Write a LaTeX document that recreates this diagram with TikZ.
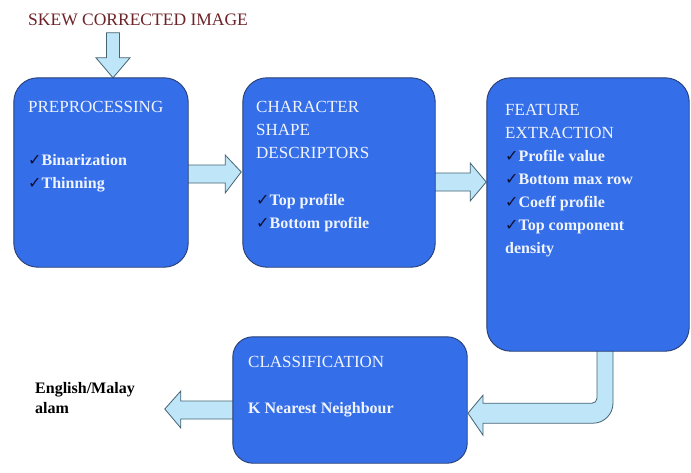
\documentclass[tikz,border=0pt]{standalone}
\usepackage{fontspec}
\setmainfont{Liberation Serif}
\newfontfamily\chkfont{DejaVu Sans}
\usetikzlibrary{calc}
\definecolor{boxblue}{RGB}{52,110,232}
\definecolor{boxedge}{RGB}{40,62,115}
\definecolor{txtlight}{RGB}{240,244,255}
\definecolor{arrfill}{RGB}{190,230,248}
\definecolor{arredge}{RGB}{70,100,115}
\definecolor{skewred}{RGB}{110,35,40}
\definecolor{chk}{RGB}{15,15,50}
\newcommand\ck{{\chkfont\color{chk}\fontsize{16}{16}\selectfont ✓}}
\begin{document}
\begin{tikzpicture}[x=1pt,y=-1pt,
  block/.style={draw=boxedge, line width=0.9pt, fill=boxblue, rounded corners=24pt, inner sep=0pt},
  barrow/.style={draw=arredge, line width=0.8pt, fill=arrfill, line join=miter},
  head/.style={anchor=base west, inner sep=0pt, text=txtlight, font=\fontsize{17}{20}\selectfont},
  item/.style={anchor=base west, inner sep=0pt, text=txtlight, font=\fontsize{16}{19}\selectfont\bfseries},
  outtext/.style={anchor=base west, inner sep=0pt, text=black, font=\fontsize{16}{19}\selectfont\bfseries}]
\useasboundingbox (0,0) rectangle (691,472);
\fill[white] (0,0) rectangle (691,472);

% box frames as named nodes (drawn after the arrows)
\path (101,172.5) node[minimum width=174pt, minimum height=189pt, inner sep=0pt] (pre) {};
\path (339,172.5) node[minimum width=192pt, minimum height=189pt, inner sep=0pt] (csd) {};
\path (588,214.5) node[minimum width=202pt, minimum height=273pt, inner sep=0pt] (fe) {};
\path (350,400) node[minimum width=234pt, minimum height=126pt, inner sep=0pt] (cls) {};

\node[anchor=base west, inner sep=0pt, text=skewred, font=\fontsize{17.5}{20}\selectfont] (skew) at (28,25) {SKEW CORRECTED IMAGE};

% arrows
\begin{scope}[shift={(pre.north)}]
\draw[barrow] (5.5,-45) -- (5.5,-20) -- (-5,-20) -- (12,0) -- (29,-20) -- (18.5,-20) -- (18.5,-45) -- cycle;
\end{scope}
\begin{scope}[shift={(pre.east)}]
\draw[barrow] (-3,-7.5) -- (37,-7.5) -- (37,-17.5) -- (53,-0.5) -- (37,20.5) -- (37,10.5) -- (-3,10.5) -- cycle;
\end{scope}
\begin{scope}[shift={(csd.east)}]
\draw[barrow] (-3,0.5) -- (35,0.5) -- (35,-9.5) -- (51,9.5) -- (35,28.5) -- (35,18.5) -- (-3,18.5) -- cycle;
\end{scope}
\begin{scope}[shift={(fe.south)}]
\draw[barrow] (25,-3) -- (25,52) arc[start angle=0, end angle=90, radius=20] -- (-105,72) -- (-105,84) -- (-120,62) -- (-105,44) -- (-105,52) -- (4,52) arc[start angle=90, end angle=0, radius=5] -- (9,-3) -- cycle;
\end{scope}
\begin{scope}[shift={(cls.west)}]
\draw[barrow] (3,1) -- (-52,1) -- (-52,-9) -- (-68,9) -- (-52,28) -- (-52,19) -- (3,19) -- cycle;
\end{scope}

% visible boxes
\draw[block] (pre.north west) rectangle (pre.south east);
\draw[block] (csd.north west) rectangle (csd.south east);
\draw[block] (fe.north west) rectangle (fe.south east);
\draw[block, rounded corners=20pt] (cls.north west) rectangle (cls.south east);

% texts
\node[head] (t1) at (28,112) {PREPROCESSING};
\node[item] (t1a) at (28,165) {\ck Binarization};
\node[item] (t1b) at (28,188) {\ck Thinning};

\node[head] (t2) at (256,112) {CHARACTER};
\node[head] (t2b) at (256,135) {SHAPE};
\node[head] (t2c) at (256,158) {DESCRIPTORS};
\node[item] (t2d) at (256,205) {\ck Top profile};
\node[item] (t2e) at (256,228) {\ck Bottom profile};

\node[head] (t3) at (505,115) {FEATURE};
\node[head] (t3b) at (505,138) {EXTRACTION};
\node[item] (t3c) at (505,161) {\ck Profile value};
\node[item] (t3d) at (505,184) {\ck Bottom max row};
\node[item] (t3e) at (505,207) {\ck Coeff profile};
\node[item] (t3f) at (505,230) {\ck Top component};
\node[item] (t3g) at (505,253) {density};

\node[head] (t4) at (248,367) {CLASSIFICATION};
\node[item] (t4b) at (248,413) {K Nearest Neighbour};

\node[outtext] (o1) at (35,393) {English/Malay};
\node[outtext] (o2) at (35,413) {alam};
\end{tikzpicture}
\end{document}
